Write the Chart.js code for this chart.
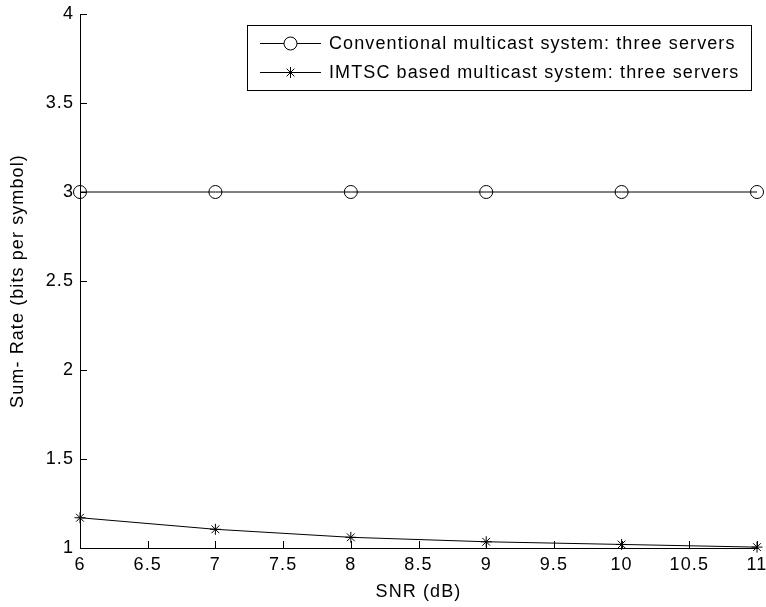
<!DOCTYPE html>
<html>
<head>
<meta charset="utf-8">
<script src="https://cdn.jsdelivr.net/npm/chart.js@4/dist/chart.umd.min.js"></script>
<style>
  html, body { margin: 0; padding: 0; background: #fff; }
  canvas { display: block; }
</style>
</head>
<body>
<canvas id="chart" width="766" height="607"></canvas>
<script>
// SNR values (x axis) and the two series
const snr = [6, 7, 8, 9, 10, 11];
const conventional = [3, 3, 3, 3, 3, 3];
const imtsc = [1.17, 1.105, 1.06, 1.035, 1.02, 1.005];

const seriesLabels = [
    "Conventional multicast system: three servers",
    "IMTSC based multicast system: three servers"
];
const xTitle = "SNR (dB)";
const yTitle = "Sum- Rate (bits per symbol)";

const FONT = "'Liberation Sans', Arial, sans-serif";
const SPACING = "1.1px";

function toPoints(xs, ys) {
    return xs.map((x, i) => ({ x: x, y: ys[i] }));
}

// MATLAB style ticks that point into the plot, plus the boxed legend
const matlabBits = {
    id: "matlabBits",
    beforeDraw(chart) {
        chart.ctx.letterSpacing = SPACING;
    },
    afterDraw(chart) {
        const ctx = chart.ctx;
        const xs = chart.scales.x;
        const ys = chart.scales.y;
        const area = chart.chartArea;

        ctx.save();
        ctx.strokeStyle = "#000";
        ctx.lineWidth = 1;
        ctx.beginPath();
        xs.ticks.forEach(t => {
            const px = Math.round(xs.getPixelForValue(t.value)) + 0.5;
            ctx.moveTo(px, area.bottom);
            ctx.lineTo(px, area.bottom - 7);
        });
        ys.ticks.forEach(t => {
            const py = Math.round(ys.getPixelForValue(t.value)) + 0.5;
            ctx.moveTo(area.left, py);
            ctx.lineTo(area.left + 7, py);
        });
        ctx.stroke();

        // legend box
        const bx = 247.5, by = 25.5, bw = 504, bh = 65;
        ctx.fillStyle = "#fff";
        ctx.fillRect(bx, by, bw, bh);
        ctx.strokeRect(bx, by, bw, bh);

        ctx.font = "18px " + FONT;
        ctx.letterSpacing = SPACING;
        ctx.textBaseline = "middle";
        ctx.textAlign = "left";
        chart.data.datasets.forEach((ds, i) => {
            const y = 43.5 + i * 29;
            ctx.strokeStyle = ds.borderColor;
            ctx.beginPath();
            ctx.moveTo(260, y);
            ctx.lineTo(321, y);
            ctx.stroke();
            Chart.helpers.drawPoint(ctx, {
                pointStyle: ds.pointStyle,
                radius: ds.pointRadius,
                borderWidth: 1,
                rotation: 0
            }, 290.5, y);
            ctx.fillStyle = "#000";
            ctx.fillText(ds.label, 329, y + 1);
        });
        ctx.restore();
    }
};

const chartCanvas = document.getElementById("chart").getContext("2d");

let myChart = new Chart(chartCanvas, {
    type: "line",
    data: {
        datasets: [
            {
                label: seriesLabels[0],
                data: toPoints(snr, conventional),
                borderColor: "#000",
                backgroundColor: "rgba(0,0,0,0)",
                borderWidth: 1,
                pointStyle: "circle",
                pointRadius: 6.5,
                pointBorderWidth: 1,
                pointBorderColor: "#000",
                pointBackgroundColor: "rgba(0,0,0,0)",
                clip: false
            },
            {
                label: seriesLabels[1],
                data: toPoints(snr, imtsc),
                borderColor: "#000",
                backgroundColor: "#000",
                borderWidth: 1,
                pointStyle: "star",
                pointRadius: 5.5,
                pointBorderWidth: 1,
                pointBorderColor: "#000",
                pointBackgroundColor: "#000",
                clip: false
            }
        ]
    },
    options: {
        responsive: false,
        animation: false,
        events: [],
        layout: { padding: { top: 14, right: 9, left: 0, bottom: 0 } },
        plugins: {
            legend: { display: false },
            tooltip: { enabled: false }
        },
        scales: {
            x: {
                type: "linear",
                min: 6,
                max: 11,
                afterFit(s) { s.height = 59; s.paddingLeft = 0; s.paddingRight = 0; },
                grid: { display: false, drawTicks: false },
                border: { display: true, color: "#000", width: 1 },
                ticks: {
                    stepSize: 0.5,
                    padding: 6,
                    color: "#000",
                    maxRotation: 0,
                    autoSkip: false,
                    font: { family: FONT, size: 18 },
                    callback: v => String(v)
                },
                title: {
                    display: true,
                    text: xTitle,
                    color: "#000",
                    padding: { top: 0, bottom: 4 },
                    font: { family: FONT, size: 18 }
                }
            },
            y: {
                min: 1,
                max: 4,
                afterFit(s) { s.width = 80; s.paddingTop = 0; s.paddingBottom = 0; },
                grid: { display: false, drawTicks: false },
                border: { display: true, color: "#000", width: 1 },
                ticks: {
                    stepSize: 0.5,
                    padding: 6,
                    color: "#000",
                    font: { family: FONT, size: 18 },
                    callback: v => String(v)
                },
                title: {
                    display: true,
                    text: yTitle,
                    color: "#000",
                    padding: { top: 7, bottom: 0 },
                    font: { family: FONT, size: 18 }
                }
            }
        }
    },
    plugins: [matlabBits]
});
</script>
</body>
</html>
